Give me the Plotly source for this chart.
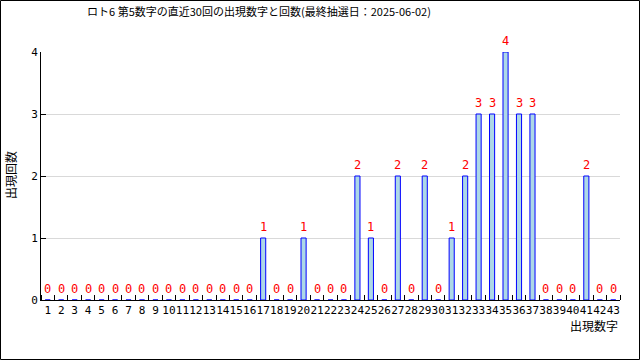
import plotly.graph_objects as go

numbers = list(range(1, 44))
counts = [0]*43
hits = {17: 1, 20: 1, 24: 2, 25: 1, 27: 2, 29: 2, 31: 1, 32: 2, 33: 3, 34: 3, 35: 4, 36: 3, 37: 3, 41: 2}
for k, v in hits.items():
    counts[k-1] = v
labels = [str(c) for c in counts]

title = "ロト6 第5数字の直近30回の出現数字と回数(最終抽選日：2025-06-02)"
xtitle = "出現数字"
ytitle = "出現回数"

W, H = 640, 360
L, R, T, B = 41, 20, 52, 60
pw, ph = W - L - R, H - T - B
font = "Noto Sans CJK JP, DejaVu Sans Mono"

fig = go.Figure()
fig.add_trace(go.Bar(x=numbers, y=counts, width=0.38,
                     marker=dict(color="#add8e6", line=dict(color="#0000ff", width=1))))

annotations = [
    dict(x=n, y=c, text=t, xref="x", yref="y", showarrow=False, yanchor="middle", yshift=11,
         font=dict(color="#ff0000", size=12, family="DejaVu Sans Mono"))
    for n, c, t in zip(numbers, counts, labels)
]
annotations += [
    dict(text=xtitle, xref="paper", yref="paper", x=1.0, y=-25/ph, xanchor="right", yanchor="middle",
         showarrow=False, font=dict(size=12, family=font, color="black")),
    dict(text=ytitle, xref="paper", yref="paper", x=-31/pw, y=(300-175)/ph, xanchor="center", yanchor="middle",
         textangle=-90, showarrow=False, font=dict(size=12, family=font, color="black")),
]

fig.update_layout(
    width=W, height=H, margin=dict(l=L, r=R, t=T, b=B),
    paper_bgcolor="white", plot_bgcolor="white", showlegend=False,
    title=dict(text=title, x=259/W, xanchor="center", y=1-12/H, yanchor="middle",
               font=dict(size=11, family=font, color="black")),
    xaxis=dict(range=[0.5, 43.5], tickvals=numbers, ticktext=[str(n) for n in numbers],
               ticks="", showgrid=False, showline=True, linecolor="black", linewidth=1,
               tickfont=dict(size=11, family="DejaVu Sans Mono", color="black"), tickangle=0,
               minor=dict(tick0=0.5, dtick=1, ticks="inside", ticklen=5, tickcolor="black", showgrid=False),
               zeroline=False),
    yaxis=dict(range=[0, 4], tickvals=[0, 1, 2, 3, 4], ticks="inside", ticklen=5, tickcolor="black",
               showline=True, linecolor="black", linewidth=1, showgrid=True, gridcolor="#d9d9d9",
               tickfont=dict(size=11, family="DejaVu Sans Mono", color="black"), zeroline=False),
    annotations=annotations,
    shapes=[dict(type="rect", xref="paper", yref="paper",
                 x0=-(L-0.5)/pw, x1=1+(R-0.5)/pw, y0=-(B-0.5)/ph, y1=1+(T-0.5)/ph,
                 line=dict(color="black", width=1))],
)
fig.write_html("out.html")
